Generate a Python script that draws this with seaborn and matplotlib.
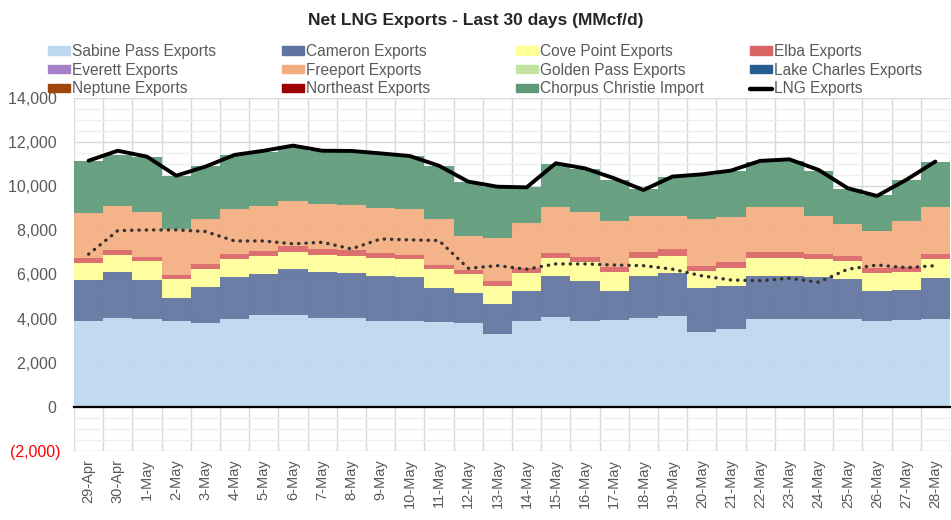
import matplotlib
matplotlib.use("Agg")
import matplotlib.pyplot as plt
import matplotlib.patches as mpatches
import matplotlib.lines as mlines
from matplotlib.ticker import MultipleLocator, FuncFormatter
import numpy as np
import pandas as pd
import seaborn as sns

# =========================================================
# 1. data (MMcf/d)
# =========================================================
dates = ["29-Apr", "30-Apr", "1-May", "2-May", "3-May", "4-May", "5-May", "6-May",
         "7-May", "8-May", "9-May", "10-May", "11-May", "12-May", "13-May", "14-May",
         "15-May", "16-May", "17-May", "18-May", "19-May", "20-May", "21-May", "22-May",
         "23-May", "24-May", "25-May", "26-May", "27-May", "28-May"]

sabine = [3870, 4020, 3990, 3910, 3790, 3970, 4170, 4170, 4050, 4020,
          3900, 3910, 3840, 3790, 3310, 3910, 4060, 3910, 3940, 4020,
          4120, 3410, 3520, 3970, 3970, 3970, 3970, 3910, 3940, 3990]
cameron = [1880, 2110, 1760, 1040, 1660, 1910, 1860, 2080, 2050, 2040,
           2050, 1970, 1570, 1390, 1360, 1360, 1850, 1810, 1330, 1930,
           1940, 1970, 1980, 1980, 1980, 1910, 1810, 1320, 1360, 1870]
cove_point = [760, 760, 840, 840, 800, 810, 830, 790, 790, 800,
              790, 810, 830, 830, 810, 820, 830, 840, 830, 820,
              800, 800, 810, 820, 820, 810, 840, 830, 830, 830]
elba = [260, 220, 220, 190, 230, 240, 210, 260, 250, 250,
        220, 200, 190, 200, 240, 190, 220, 220, 230, 240,
        300, 220, 250, 240, 240, 240, 240, 250, 200, 240]
everett = [0] * 30
freeport = [2010, 2010, 2040, 2090, 2040, 2040, 2040, 2050, 2060, 2040,
            2070, 2070, 2090, 1550, 1920, 2040, 2090, 2070, 2100, 1640,
            1490, 2100, 2060, 2040, 2070, 1740, 1430, 1680, 2100, 2120]
golden_pass = [0] * 30
lake_charles = [0] * 30
neptune = [0] * 30
northeast = [0] * 30
corpus = [2380, 2300, 2460, 2410, 2400, 2450, 2460, 2490, 2410, 2390,
          2420, 2410, 2400, 2450, 2310, 1660, 1950, 1930, 1860, 1230,
          1760, 2010, 2090, 2070, 2080, 2020, 1590, 1620, 1860, 2040]

lng_exports = [11160, 11610, 11340, 10480, 10890, 11420, 11610, 11840, 11610, 11600,
               11490, 11370, 10930, 10210, 9980, 9950, 11040, 10810, 10360, 9830,
               10440, 10540, 10710, 11150, 11220, 10740, 9910, 9560, 10290, 11120]
# dotted line (not in legend)
dotted = [6920, 7990, 8020, 8020, 7950, 7520, 7520, 7390, 7460, 7160,
          7610, 7570, 7540, 6280, 6400, 6240, 6480, 6480, 6430, 6400,
          6240, 5940, 5750, 5720, 5830, 5650, 6240, 6430, 6310, 6400]

series = [
    ("Sabine Pass Exports", sabine, "#BDD7EE"),
    ("Cameron Exports", cameron, "#5F739E"),
    ("Cove Point Exports", cove_point, "#FFFF99"),
    ("Elba Exports", elba, "#DA6464"),
    ("Everett Exports", everett, "#A680C6"),
    ("Freeport Exports", freeport, "#F4AD7E"),
    ("Golden Pass Exports", golden_pass, "#C5E3A0"),
    ("Lake Charles Exports", lake_charles, "#255E91"),
    ("Neptune Exports", neptune, "#9E480E"),
    ("Northeast Exports", northeast, "#9C0000"),
    ("Chorpus Christie Import", corpus, "#5C9A78"),
]

# =========================================================
# 2. style
# =========================================================
sns.set_theme(style="white")
plt.rcParams["font.family"] = ["Liberation Sans", "DejaVu Sans"]
GRAY_TXT = "#595959"

fig = plt.figure(figsize=(9.51, 5.20), dpi=100)
ax = fig.add_axes([74 / 951, 1 - 451 / 520, (950 - 74) / 951, (451 - 98) / 520])

x = np.arange(len(dates))
bottom = np.zeros(len(dates))
handles = {}
for name, vals, color in series:
    vals = np.array(vals, dtype=float)
    ax.bar(x, vals, width=1.0, bottom=bottom, color=color, alpha=0.92,
           linewidth=0, zorder=2)
    bottom += vals
    handles[name] = mpatches.Patch(color=color, label=name)

df = pd.DataFrame({"x": x, "lng": lng_exports, "dotted": dotted})
sns.lineplot(data=df, x="x", y="dotted", ax=ax, color="#333333", lw=2.4,
             linestyle=(0, (0.1, 2.1)), dash_capstyle="round", zorder=4)
sns.lineplot(data=df, x="x", y="lng", ax=ax, color="black", lw=2.8,
             solid_capstyle="round", zorder=5)

# =========================================================
# 3. axes
# =========================================================
ax.set_xlim(-0.5, len(dates) - 0.5)
ax.set_ylim(-2000, 14000)
ax.set_xlabel("")
ax.set_ylabel("")

ax.yaxis.set_major_locator(MultipleLocator(2000))
ax.yaxis.set_minor_locator(MultipleLocator(500))


# Excel style: negatives in (red) parentheses, positives padded
def fmt(v, pos):
    if v < 0:
        return f"({abs(v):,.0f})"
    return f"{v:,.0f}\u2009"


ax.yaxis.set_major_formatter(FuncFormatter(fmt))
ax.tick_params(axis="y", which="both", length=0, labelsize=11.5,
               labelcolor=GRAY_TXT, pad=10)
for lab in ax.get_yticklabels():
    if lab.get_text().startswith("("):
        lab.set_color("red")

# category boundaries -> ticks + vertical grid
ax.set_xticks(np.arange(-0.5, len(dates), 1.0))
ax.set_xticklabels([])
ax.spines["bottom"].set_position(("data", 0))
ax.spines["bottom"].set_color("black")
ax.spines["bottom"].set_linewidth(1.6)
ax.spines["bottom"].set_zorder(6)
ax.tick_params(axis="x", which="major", direction="out", length=4, width=1.5,
               color="black")
for s in ["left", "right", "top"]:
    ax.spines[s].set_visible(False)

ax.grid(True, which="major", axis="both", color="#D9D9D9", lw=1, zorder=0)
ax.grid(True, which="minor", axis="y", color="#EFEFEF", lw=1, zorder=0)
ax.set_axisbelow(True)

# date labels under the plot area
sec = ax.secondary_xaxis("bottom")
sec.set_xticks(x)
sec.set_xticklabels(dates, rotation=90, fontsize=10.5, color=GRAY_TXT)
sec.tick_params(length=0, pad=6)
sec.spines["bottom"].set_visible(False)

# =========================================================
# 4. title + legend (4 fixed-width columns)
# =========================================================
fig.text(0.5, 1 - 20 / 520, "Net LNG Exports - Last 30 days (MMcf/d)",
         ha="center", va="center", fontsize=12.5, fontweight="bold")

handles["LNG Exports"] = mlines.Line2D([], [], color="black", lw=3.2,
                                      label="LNG Exports")
legend_cols = [
    ["Sabine Pass Exports", "Everett Exports", "Neptune Exports"],
    ["Cameron Exports", "Freeport Exports", "Northeast Exports"],
    ["Cove Point Exports", "Golden Pass Exports", "Chorpus Christie Import"],
    ["Elba Exports", "Lake Charles Exports", "LNG Exports"],
]
col_x = [48, 282, 516, 750]
for cx, names in zip(col_x, legend_cols):
    leg = fig.legend([handles[n] for n in names], names, ncol=1,
                     loc="upper left", bbox_to_anchor=(cx / 951, 1 - 44 / 520),
                     frameon=False, fontsize=11.2, handlelength=1.42,
                     handleheight=0.45, handletextpad=0.12, labelspacing=0.24,
                     borderaxespad=0, borderpad=0)
    for t in leg.get_texts():
        t.set_color(GRAY_TXT)

fig.savefig("out.png", dpi=100)
